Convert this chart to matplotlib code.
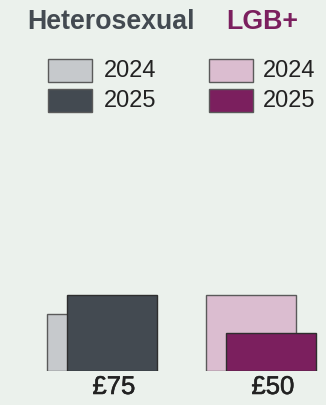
import numpy as np
import matplotlib
matplotlib.use('Agg')
import matplotlib.pyplot as plt
import matplotlib.patheffects as pe
from matplotlib.patches import Rectangle

groups = ['Heterosexual', 'LGB+']
years = ['2024', '2025']
vals_2024 = [57, 76]
vals_2025 = [76, 38]
value_labels = ['£75', '£50']

col_2024 = ['#c6c9cc', '#dbbdd0']
col_2025 = ['#434a51', '#7b1f5e']
head_cols = ['#434a51', '#7b1f5e']
bg = '#ebf1ec'

plt.rcParams['font.family'] = ['Liberation Sans', 'DejaVu Sans']

W, H = 326, 405
fig = plt.figure(figsize=(W/100, H/100), dpi=100, facecolor=bg)

# axes: bottom of bars at 371px from top
ax = fig.add_axes([0, 34/H, 1, 240/H])
ax.set_facecolor(bg)
ax.set_xlim(-101.5/159, -101.5/159 + W/159)
ax.set_ylim(0, 240)
ax.axis('off')

x = np.arange(len(groups))
w = 90/159
off = 10/159
ax.bar(x - off, vals_2024, width=w, color=col_2024, edgecolor='#5a5a5a', linewidth=1, zorder=2)
ax.bar(x + off, vals_2025, width=w, color=col_2025, edgecolor='#2e2e2e', linewidth=1, zorder=3)

thick = [pe.withStroke(linewidth=0.4, foreground='#222222')]
for i, lab in enumerate(value_labels):
    fig.text((114 + 159*i)/W, 1 - 387/H, lab, ha='center', va='center',
             fontsize=18.5, color='#222222', path_effects=thick)

# headers
fig.text(111/W, 1 - 22/H, groups[0], ha='center', va='center', fontsize=19.3,
         fontweight='bold', color=head_cols[0])
fig.text(262/W, 1 - 22/H, groups[1], ha='center', va='center', fontsize=19.3,
         fontweight='bold', color=head_cols[1])

# legend swatches
for g, (lx, tx) in enumerate([(48, 104), (209, 263)]):
    for r, (yr, c) in enumerate(zip(years, [col_2024[g], col_2025[g]])):
        top = 59 + 30*r
        fig.patches.append(Rectangle((lx/W, 1 - (top+23)/H), 44/W, 23/H,
                                     transform=fig.transFigure, facecolor=c,
                                     edgecolor='#5a5a5a', linewidth=1))
        fig.text(tx/W, 1 - (top+12)/H, yr, ha='left', va='center',
                 fontsize=17, color='#222222')

plt.savefig('out.png', dpi=100, facecolor=bg)
